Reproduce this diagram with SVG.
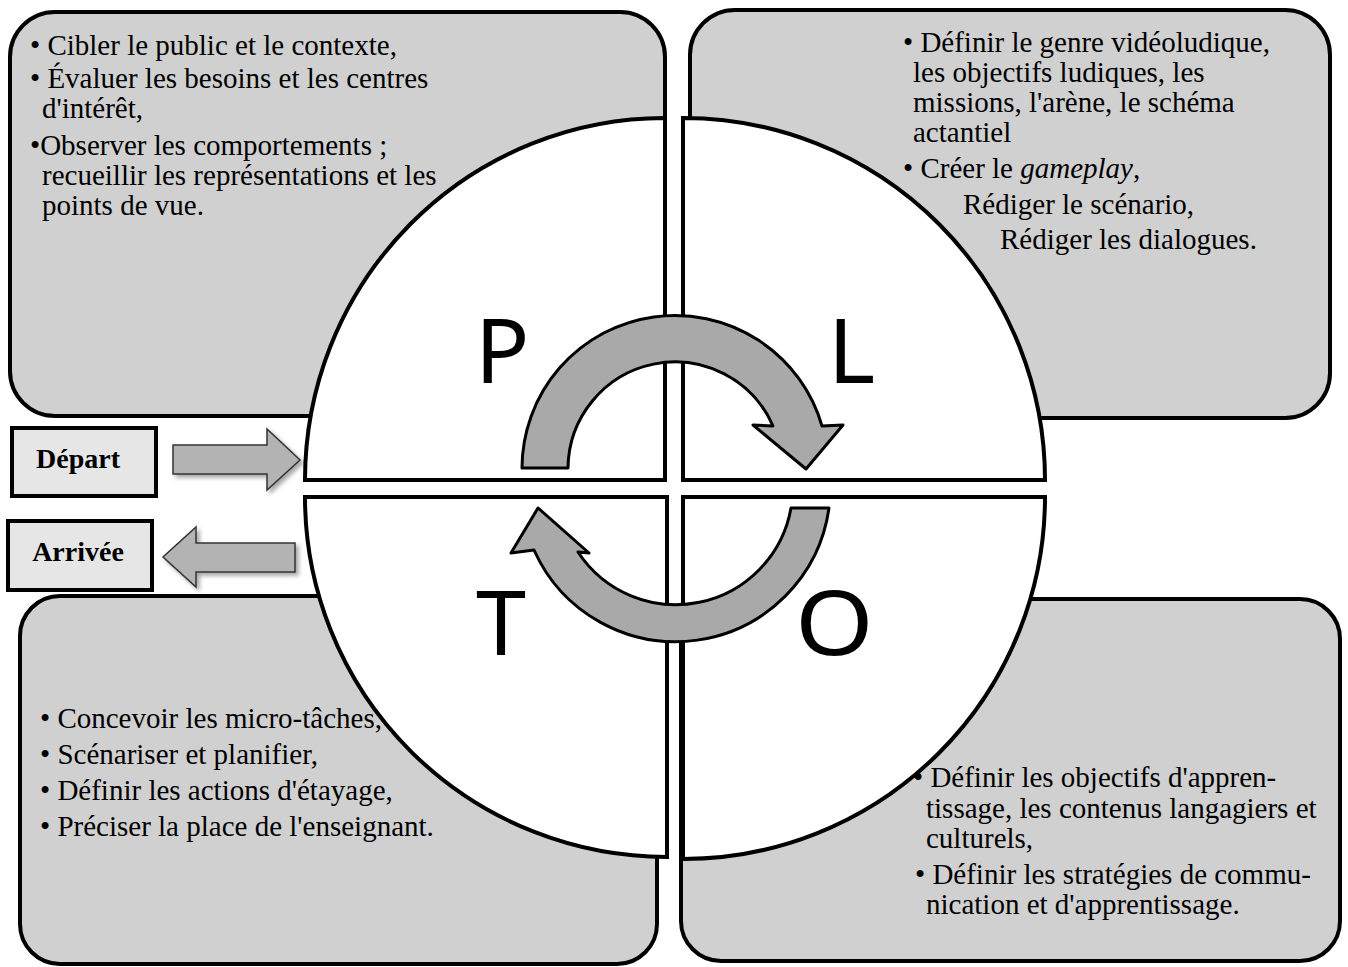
<svg xmlns="http://www.w3.org/2000/svg" width="1348" height="967" viewBox="0 0 1348 967">
<defs>
<filter id="sh" x="-20%" y="-20%" width="150%" height="150%">
<feDropShadow dx="3" dy="3" stdDeviation="2" flood-color="#000" flood-opacity="0.35"/>
</filter>
</defs>
<style>
.box{fill:#d0d0d0;stroke:#000;stroke-width:4}
.quad{fill:#fff;stroke:#000;stroke-width:4}
.t{font-family:"Liberation Serif","Times New Roman",serif;font-size:29px;fill:#000}
.lab{font-family:"Liberation Serif","Times New Roman",serif;font-size:28px;font-weight:bold;fill:#000}
.big{font-family:"Noto Sans","Open Sans",sans-serif;font-size:90px;fill:#000}
.tag{fill:#e6e6e6;stroke:#000;stroke-width:4}
.sarrow{fill:#b3b3b3;stroke:#333;stroke-width:1.5}
.carrow{fill:#a9a9a9;stroke:#000;stroke-width:3;stroke-linejoin:round}
</style>
<rect width="1348" height="967" fill="#fff"/>

<g id="box-P">
<rect class="box" x="10" y="12" width="655" height="404" rx="45"/>
<text class="t" x="30" y="55">• Cibler le public et le contexte,</text>
<text class="t" x="30" y="88">• Évaluer les besoins et les centres</text>
<text class="t" x="42" y="118">d'intérêt,</text>
<text class="t" x="30" y="155">•Observer les comportements ;</text>
<text class="t" x="42" y="185">recueillir les représentations et les</text>
<text class="t" x="42" y="215">points de vue.</text>
</g>

<g id="box-L">
<rect class="box" x="690" y="10" width="640" height="408" rx="45"/>
<text class="t" x="903" y="52">• Définir le genre vidéoludique,</text>
<text class="t" x="913" y="82">les objectifs ludiques, les</text>
<text class="t" x="913" y="112">missions, l'arène, le schéma</text>
<text class="t" x="913" y="142">actantiel</text>
<text class="t" x="903" y="178">• Créer le <tspan font-style="italic">gameplay</tspan>,</text>
<text class="t" x="963" y="214">Rédiger le scénario,</text>
<text class="t" x="1000" y="249">Rédiger les dialogues.</text>
</g>

<g id="box-T">
<rect class="box" x="20" y="596" width="637" height="368" rx="40"/>
<text class="t" x="40" y="728">• Concevoir les micro-tâches,</text>
<text class="t" x="40" y="764">• Scénariser et planifier,</text>
<text class="t" x="40" y="800">• Définir les actions d'étayage,</text>
<text class="t" x="40" y="836">• Préciser la place de l'enseignant.</text>
</g>

<g id="box-O">
<rect class="box" x="681" y="599" width="659" height="362" rx="40"/>
<text class="t" x="913" y="787">• Définir les objectifs d'appren-</text>
<text class="t" x="926" y="818">tissage, les contenus langagiers et</text>
<text class="t" x="926" y="848">culturels,</text>
<text class="t" x="915" y="884">• Définir les stratégies de commu-</text>
<text class="t" x="926" y="914">nication et d'apprentissage.</text>
</g>

<g id="quad-P">
<path class="quad" d="M665,480 L305,480 A360,362 0 0 1 665,118 Z"/>
<text class="big" x="475" y="383">P</text>
</g>
<g id="quad-L">
<path class="quad" d="M683,480 L683,118 A362,362 0 0 1 1045,480 Z"/>
<text class="big" x="828" y="383">L</text>
</g>
<g id="quad-T">
<path class="quad" d="M667,497 L305,497 A362,360 0 0 0 667,857 Z"/>
<text class="big" x="476" y="655">T</text>
</g>
<g id="quad-O">
<path class="quad" d="M683,497 L1045,497 A362,362 0 0 1 683,859 Z"/>
<text class="big" transform="translate(795,655) scale(1.12,1)" x="0" y="0">O</text>
</g>

<g id="depart">
<rect class="tag" x="12" y="428" width="144" height="68"/>
<text class="lab" x="78" y="468" text-anchor="middle">Départ</text>
</g>
<g id="arrivee">
<rect class="tag" x="8" y="521" width="144" height="69"/>
<text class="lab" x="78" y="561" text-anchor="middle">Arrivée</text>
</g>

<g id="connectors">
<path class="sarrow" filter="url(#sh)" d="M173,445 L267,445 L267,429 L300,460 L267,490 L267,474 L173,474 Z"/>
<path class="sarrow" filter="url(#sh)" d="M295,543 L196,543 L196,527 L163,557 L196,587 L196,572 L295,572 Z"/>
<path class="carrow" d="M522,468 A153,153 0 0 1 822,426 L843,425 L806,469 L753,425 L773,426 A107,107 0 0 0 568,468 Z"/>
<path class="carrow" d="M829,508 A155,155 0 0 1 534,550 L511,553 L538,508 L589,553 L578,552 A117,117 0 0 0 791,508 Z"/>
</g>
</svg>
